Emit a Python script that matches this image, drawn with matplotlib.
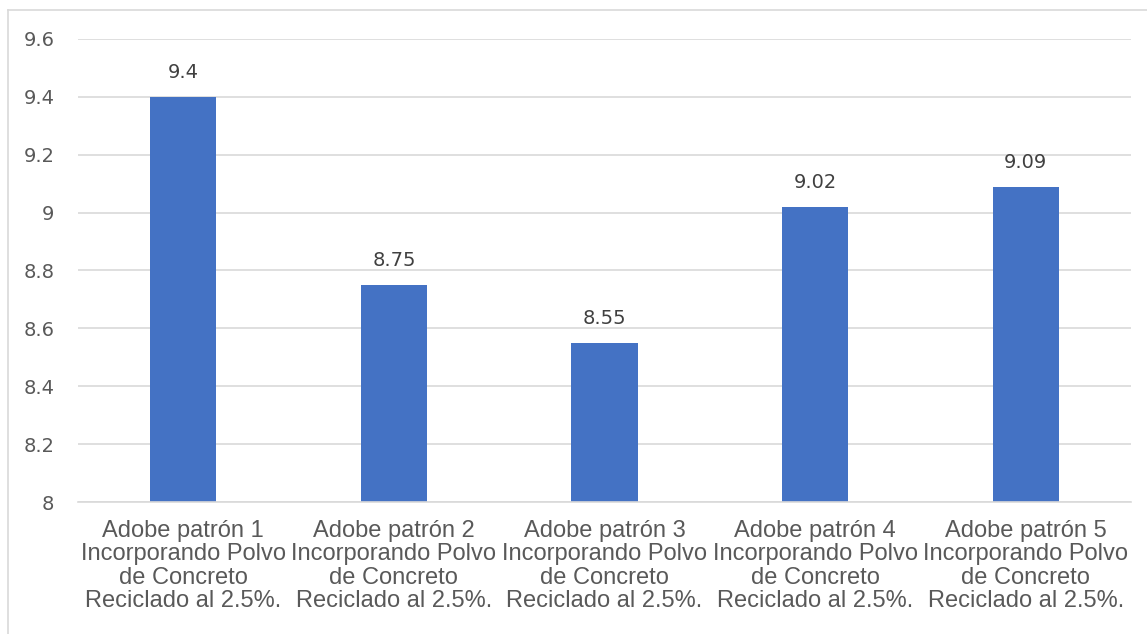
import matplotlib.pyplot as plt
from matplotlib.lines import Line2D

categories = ["Adobe patrón 1\nIncorporando Polvo\nde Concreto\nReciclado al 2.5%.",
              "Adobe patrón 2\nIncorporando Polvo\nde Concreto\nReciclado al 2.5%.",
              "Adobe patrón 3\nIncorporando Polvo\nde Concreto\nReciclado al 2.5%.",
              "Adobe patrón 4\nIncorporando Polvo\nde Concreto\nReciclado al 2.5%.",
              "Adobe patrón 5\nIncorporando Polvo\nde Concreto\nReciclado al 2.5%."]
values = [9.4, 8.75, 8.55, 9.02, 9.09]
value_labels = ["9.4", "8.75", "8.55", "9.02", "9.09"]
yticks = [8, 8.2, 8.4, 8.6, 8.8, 9, 9.2, 9.4, 9.6]
ytick_labels = ["8", "8.2", "8.4", "8.6", "8.8", "9", "9.2", "9.4", "9.6"]

txt = "#595959"
fig = plt.figure(figsize=(11.47, 6.34), dpi=100)
ax = fig.add_axes([0.068, 0.2082, 0.918, 0.7303])

x = range(len(values))
bars = ax.bar(x, values, width=0.314, color="#4472C4", zorder=2)
for b, lab in zip(bars, value_labels):
    ax.text(b.get_x() + b.get_width() / 2, b.get_height() + 0.05, lab,
            ha="center", va="bottom", fontsize=14, color="#404040",
            family="DejaVu Sans")

ax.set_xlim(-0.5, 4.5)
ax.set_ylim(8, 9.6)
ax.set_yticks(yticks)
ax.set_yticklabels(ytick_labels, fontsize=14, color=txt, family="DejaVu Sans")
ax.set_xticks(list(x))
ax.set_xticklabels(categories, fontsize=17, color=txt, family="Liberation Sans",
                   linespacing=1.08)
ax.tick_params(axis="both", length=0)
ax.tick_params(axis="y", pad=17)
ax.tick_params(axis="x", pad=13)
ax.grid(axis="y", color="#D9D9D9", linewidth=1.2, zorder=0)
for s in ["top", "right", "left"]:
    ax.spines[s].set_visible(False)
ax.spines["bottom"].set_color("#D9D9D9")
ax.spines["bottom"].set_linewidth(1.2)

# outer chart frame (top and left edges visible)
fig.add_artist(Line2D([8 / 1147, 1.0], [1 - 10 / 634, 1 - 10 / 634], color="#D9D9D9", lw=1.2))
fig.add_artist(Line2D([8 / 1147, 8 / 1147], [0, 1 - 10 / 634], color="#D9D9D9", lw=1.2))

fig.savefig("out.png", dpi=100)
